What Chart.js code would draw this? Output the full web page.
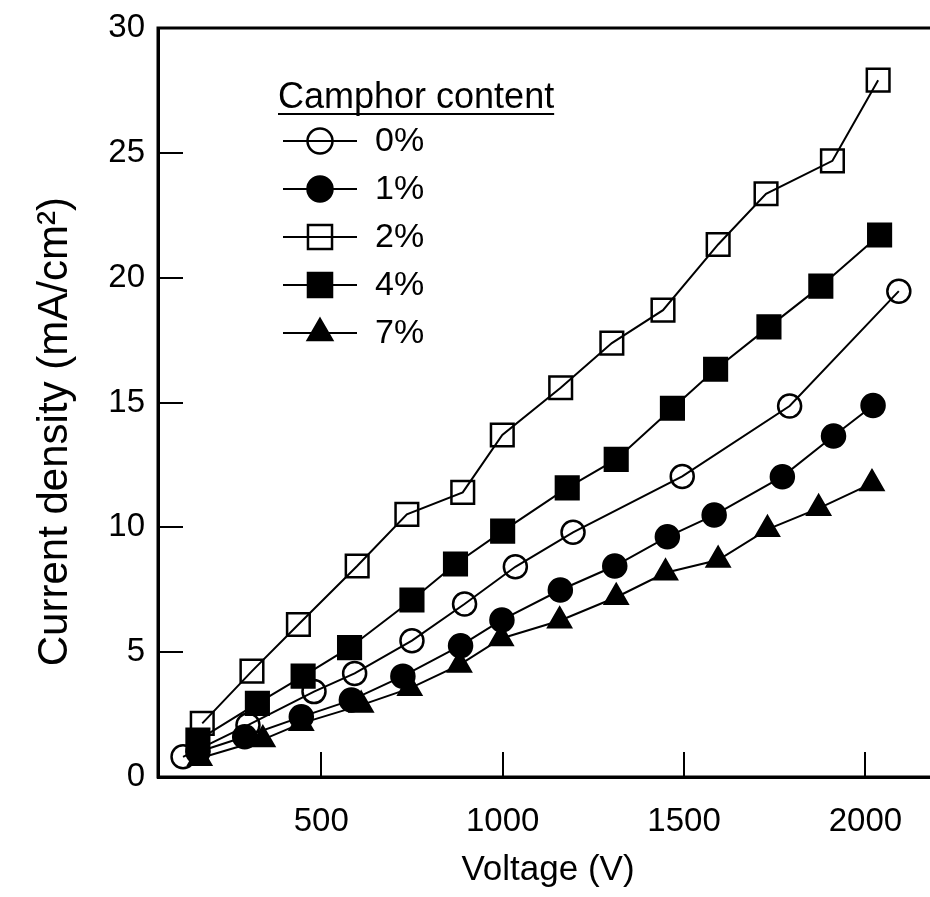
<!DOCTYPE html>
<html>
<head>
<meta charset="utf-8">
<script src="https://cdn.jsdelivr.net/npm/chart.js@4"></script>
<style>
  html, body { margin: 0; padding: 0; background: #fff; overflow: hidden; }
  #wrap { width: 960px; height: 897px; }
</style>
</head>
<body>
<div id="wrap"><canvas id="chart" width="960" height="897"></canvas></div>
<script>
// Voltage (V) and current density (mA/cm2), one pair per camphor content
const volt0 = [119, 298, 480, 592, 750, 895, 1035, 1194, 1495, 1791, 2092];
const cur0  = [0.81, 2.08, 3.42, 4.15, 5.46, 6.93, 8.42, 9.8, 12.04, 14.86, 19.46];

const volt1 = [160, 289, 445, 583, 725, 884, 998, 1159, 1309, 1454, 1583, 1771, 1912, 2021];
const cur1  = [1.0, 1.61, 2.41, 3.08, 4.04, 5.26, 6.29, 7.49, 8.45, 9.62, 10.49, 12.03, 13.66, 14.88];

const volt2 = [172, 309, 437, 599, 736, 890, 999, 1160, 1301, 1442, 1594, 1726, 1909, 2035];
const cur2  = [2.15, 4.24, 6.11, 8.45, 10.52, 11.4, 13.7, 15.59, 17.38, 18.7, 21.33, 23.36, 24.68, 27.91];

const volt4 = [160, 324, 450, 578, 750, 870, 1000, 1178, 1313, 1468, 1587, 1734, 1877, 2039];
const cur4  = [1.48, 2.95, 4.04, 5.18, 7.09, 8.53, 9.85, 11.58, 12.72, 14.77, 16.33, 18.03, 19.66, 21.71];

const volt7 = [165, 339, 445, 610, 744, 881, 996, 1157, 1313, 1449, 1594, 1730, 1871, 2018];
const cur7  = [0.75, 1.5, 2.15, 2.88, 3.55, 4.49, 5.55, 6.26, 7.2, 8.18, 8.69, 9.92, 10.76, 11.76];

const seriesLabels = ['0%', '1%', '2%', '4%', '7%'];
const xTickValues = [500, 1000, 1500, 2000];
const FONT = '"Liberation Sans", Arial, sans-serif';

function pairs(xs, ys) {
    return xs.map((v, i) => ({ x: v, y: ys[i] }));
}

function series(label, xs, ys, style, filled, radius) {
    return {
        label: label,
        data: pairs(xs, ys),
        borderColor: '#000',
        borderWidth: 2,
        tension: 0,
        fill: false,
        pointStyle: style,
        pointRadius: radius,
        pointBorderWidth: 2.5,
        pointBorderColor: '#000',
        pointBackgroundColor: filled ? '#000' : 'rgba(0,0,0,0)'
    };
}

// Frame across the top of the plot (the axes draw left and bottom)
const framePlugin = {
    id: 'frame',
    beforeDatasetsDraw(chart) {
        const { ctx, chartArea: a } = chart;
        ctx.save();
        ctx.strokeStyle = '#000';
        ctx.lineWidth = 3;
        ctx.strokeRect(a.left, a.top, a.right - a.left, a.bottom - a.top);
        ctx.restore();
    }
};

// Legend drawn inside the plot, like in the figure
const insideLegend = {
    id: 'insideLegend',
    afterDatasetsDraw(chart) {
        const ctx = chart.ctx;
        ctx.save();
        ctx.fillStyle = '#000';
        ctx.strokeStyle = '#000';
        ctx.font = '36px ' + FONT;
        ctx.textBaseline = 'alphabetic';
        ctx.textAlign = 'left';
        const title = 'Camphor content';
        ctx.fillText(title, 278, 108);
        const w = ctx.measureText(title).width;
        ctx.lineWidth = 2;
        ctx.beginPath();
        ctx.moveTo(278, 114);
        ctx.lineTo(278 + w, 114);
        ctx.stroke();

        chart.data.datasets.forEach((ds, i) => {
            const y = 141 + i * 48;
            ctx.lineWidth = 2;
            ctx.beginPath();
            ctx.moveTo(283, y);
            ctx.lineTo(357, y);
            ctx.stroke();
            ctx.lineWidth = ds.pointBorderWidth;
            ctx.fillStyle = ds.pointBackgroundColor;
            Chart.helpers.drawPoint(ctx, {
                pointStyle: ds.pointStyle,
                radius: ds.pointRadius + 1,
                borderWidth: ds.pointBorderWidth,
                rotation: 0
            }, 320, y);
            ctx.fillStyle = '#000';
            ctx.font = '34px ' + FONT;
            ctx.textBaseline = 'middle';
            ctx.fillText(ds.label, 375, y + 1);
        });
        ctx.restore();
    }
};

const ctx = document.getElementById('chart').getContext('2d');
new Chart(ctx, {
    type: 'line',
    data: {
        datasets: [
            series(seriesLabels[0], volt0, cur0, 'circle', false, 11.5),
            series(seriesLabels[1], volt1, cur1, 'circle', true, 11.5),
            series(seriesLabels[2], volt2, cur2, 'rect', false, 16),
            series(seriesLabels[3], volt4, cur4, 'rect', true, 16),
            series(seriesLabels[4], volt7, cur7, 'triangle', true, 13)
        ]
    },
    options: {
        responsive: false,
        animation: false,
        layout: { padding: { left: 0, top: 28, right: 22, bottom: 0 } },
        plugins: {
            legend: { display: false },
            tooltip: { enabled: false }
        },
        scales: {
            x: {
                type: 'linear',
                min: 50,
                max: 2200,
                afterBuildTicks: (scale) => {
                    scale.ticks = xTickValues.map(v => ({ value: v }));
                },
                afterFit: (scale) => {
                    scale.height = 120;
                    scale.paddingLeft = 0;
                    scale.paddingRight = 0;
                },
                grid: { drawOnChartArea: false, tickLength: -25, color: '#000', lineWidth: 2 },
                border: { color: '#000', width: 3 },
                ticks: {
                    color: '#000',
                    padding: 50,
                    maxRotation: 0,
                    callback: (v) => String(v),
                    font: { family: FONT, size: 33 }
                },
                title: {
                    display: true,
                    text: 'Voltage (V)',
                    color: '#000',
                    padding: { top: 0, bottom: 6 },
                    font: { family: FONT, size: 35 }
                }
            },
            y: {
                min: 0,
                max: 30,
                afterFit: (scale) => {
                    scale.width = 158;
                    scale.paddingTop = 0;
                    scale.paddingBottom = 0;
                },
                grid: { drawOnChartArea: false, tickLength: -25, color: '#000', lineWidth: 2 },
                border: { color: '#000', width: 3 },
                ticks: {
                    stepSize: 5,
                    color: '#000',
                    padding: 38,
                    font: { family: FONT, size: 33 }
                },
                title: {
                    display: true,
                    // trailing spaces push the visible text down, as in the figure
                    text: 'Current density (mA/cm²)\u00a0\u00a0\u00a0\u00a0\u00a0',
                    color: '#000',
                    padding: { top: 30, bottom: 0 },
                    font: { family: FONT, size: 42 }
                }
            }
        }
    },
    plugins: [framePlugin, insideLegend]
});
</script>
</body>
</html>
